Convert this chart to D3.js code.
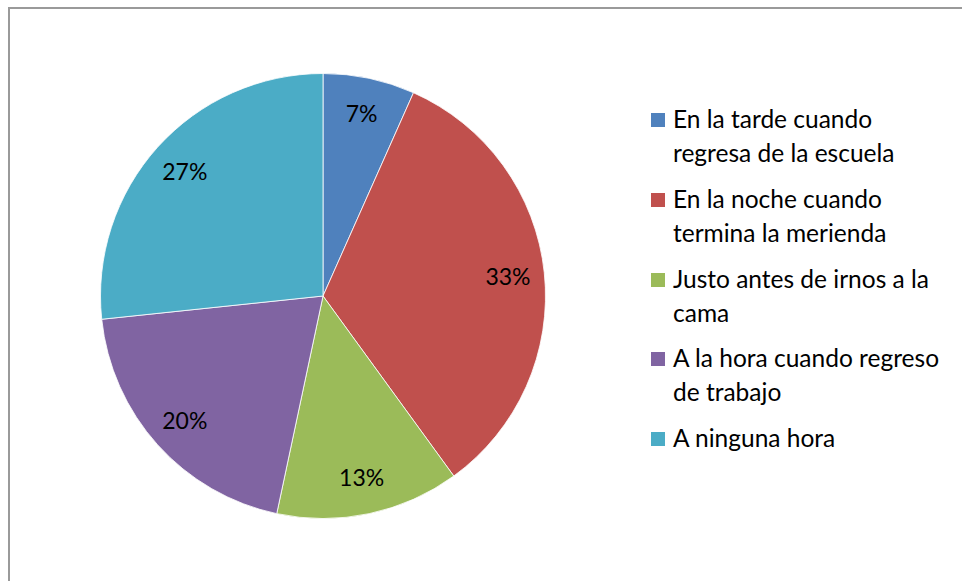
<!DOCTYPE html>
<html><head><meta charset="utf-8">
<script src="https://cdn.jsdelivr.net/npm/d3@7"></script>
<style>html,body{margin:0;padding:0;background:#fff;}svg{display:block;}</style>
</head><body>
<svg id="chart" width="962" height="581"></svg>
<script>
const categories = ["En la tarde cuando regresa de la escuela","En la noche cuando termina la merienda","Justo antes de irnos a la cama","A la hora cuando regreso de trabajo","A ninguna hora"];
const legendLines = [["En la tarde cuando","regresa de la escuela"],["En la noche cuando","termina la merienda"],["Justo antes de irnos a la","cama"],["A la hora cuando regreso","de trabajo"],["A ninguna hora"]];
const values = [1,5,2,3,4];
const colors = ["#4F81BD","#C0504D","#9BBB59","#8064A2","#4BACC6"];

const svg = d3.select("#chart");
const font = "Lato, 'Open Sans', sans-serif";
svg.append("rect").attr("x",9).attr("y",8).attr("width",1000).attr("height",700)
  .attr("fill","#fff").attr("stroke","#9a9a9a").attr("stroke-width",2);

const cx = 323, cy = 296, r = 222.5;
const pie = d3.pie().sort(null).value(d=>d);
const arcs = pie(values);
const arc = d3.arc().innerRadius(0).outerRadius(r);
const labelArc = d3.arc().innerRadius(186).outerRadius(186);
const total = d3.sum(values);
const g = svg.append("g").attr("transform",`translate(${cx},${cy})`);
g.selectAll("path").data(arcs).enter().append("path")
  .attr("d",arc).attr("fill",(d,i)=>colors[i]).attr("stroke","#fff").attr("stroke-width",0.8);
g.selectAll("text").data(arcs).enter().append("text")
  .attr("transform",d=>`translate(${labelArc.centroid(d)})`)
  .attr("text-anchor","middle").attr("dy","0.35em")
  .style("font-family",font).style("font-size","23px").attr("fill","#000")
  .text(d=>Math.round(d.value/total*100)+"%");

const legendStarts = [119,199,279,358,438];
const lg = svg.append("g");
categories.forEach((c,i)=>{
  const y0 = legendStarts[i];
  lg.append("rect").attr("x",651).attr("y",y0-6).attr("width",14).attr("height",14).attr("fill",colors[i]);
  const t = lg.append("text").attr("x",673).attr("y",y0).attr("dy","0.35em")
    .style("font-family",font).style("font-size","24.5px").attr("fill","#000");
  legendLines[i].forEach((ln,j)=>{
    t.append("tspan").attr("x",673).attr("y",y0+j*34).attr("dy","0.35em").text(ln);
  });
});
</script>
</body></html>
